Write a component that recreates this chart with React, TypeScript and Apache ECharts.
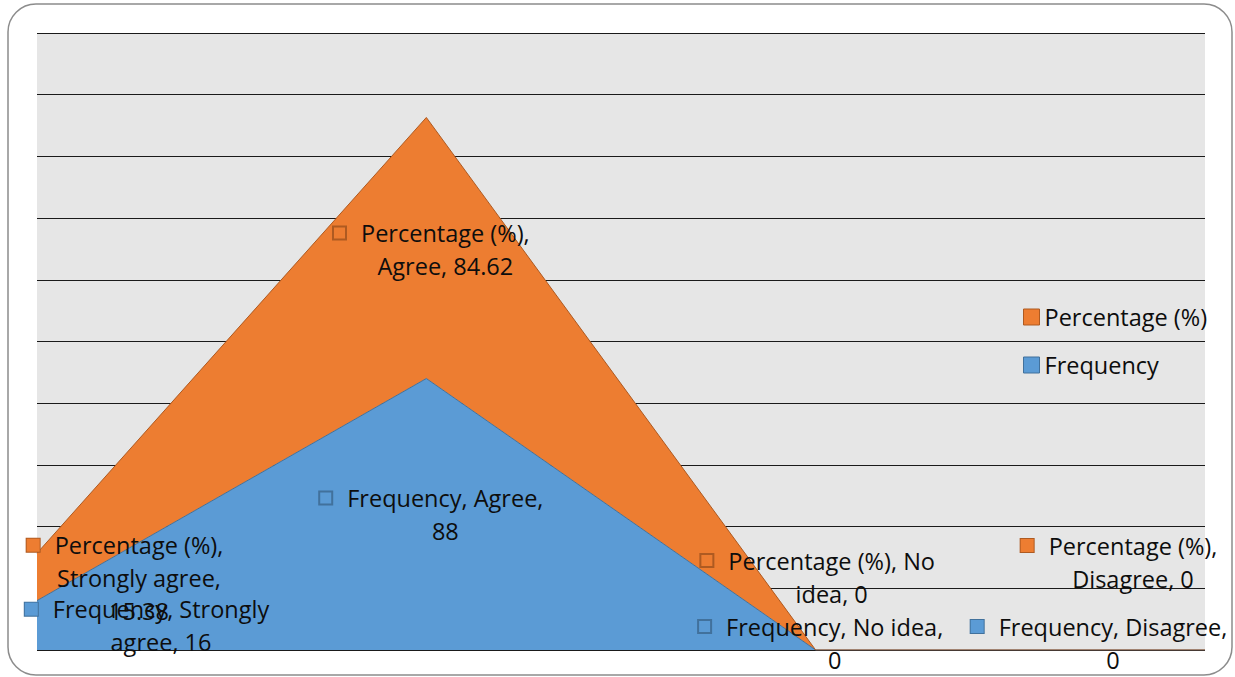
import React, { useEffect, useRef } from "react";
import * as echarts from "echarts";

const categories = ["Strongly agree", "Agree", "No idea", "Disagree"];
const frequency = [16, 88, 0, 0];
const percentage = [15.38, 84.62, 0, 0];
const seriesNames = ["Frequency", "Percentage (%)"];
const axisMin = 0;
const axisMax = 200;
const axisInterval = 20;

// layout of the data labels (words per line, offset from point, filled key)
const freqLabelLayout = [
  { lines: [2, 2], offset: [124, 25], filled: true },
  { lines: [2, 1], offset: [19, 136], filled: false },
  { lines: [3, 1], offset: [19, -7], filled: false },
  { lines: [2, 1], offset: [-92, -7], filled: true },
];
const pctLabelLayout = [
  { lines: [2, 2, 1], offset: [102, 25], filled: true },
  { lines: [2, 2], offset: [19, 132], filled: false },
  { lines: [3, 2], offset: [16, -73], filled: false },
  { lines: [2, 2], offset: [-72, -88], filled: true },
];

const ORANGE = "#ED7D31";
const ORANGE_DARK = "#AE5A21";
const BLUE = "#5B9BD5";
const BLUE_DARK = "#41719C";
const FONT = "Open Sans";
const FONT_SIZE = 23.5;

function buildLabel(name: string, cat: string, value: number, layout: any, color: string, dark: string) {
  const words = `${name}, ${cat}, ${value}`.split(" ");
  const lines: string[] = [];
  let i = 0;
  for (const n of layout.lines) {
    lines.push(words.slice(i, i + n).join(" "));
    i += n;
  }
  const text = lines
    .map((l, idx) => (idx === 0 ? `{k|}{g|}{t|${l}}{p|}` : `{t|${l}}`))
    .join("\n");
  return {
    show: true,
    position: "inside",
    offset: layout.offset,
    align: "center",
    verticalAlign: "middle",
    formatter: () => text,
    rich: {
      k: {
        width: 13,
        height: 13,
        backgroundColor: layout.filled ? color : "transparent",
        borderColor: dark,
        borderWidth: 1,
      },
      g: { width: 15, height: 13 },
      p: { width: 28, height: 13 },
      t: { fontFamily: FONT, fontSize: FONT_SIZE, color: "#0d0d0d", lineHeight: 33 },
    },
  };
}

export default function App() {
  const ref = useRef<HTMLDivElement>(null);
  useEffect(() => {
    if (!ref.current) return;
    const chart = echarts.init(ref.current, undefined, { renderer: "svg" });
    const freqData = frequency.map((v, idx) => ({
      value: v,
      label: buildLabel(seriesNames[0], categories[idx], v, freqLabelLayout[idx], BLUE, BLUE_DARK),
    }));
    const pctData = percentage.map((v, idx) => ({
      value: v,
      label: buildLabel(seriesNames[1], categories[idx], v, pctLabelLayout[idx], ORANGE, ORANGE_DARK),
    }));
    chart.setOption({
      animation: false,
      backgroundColor: "#ffffff",
      graphic: [
        {
          type: "rect",
          shape: { x: 8, y: 4, width: 1224, height: 671, r: 28 },
          style: { fill: "none", stroke: "#8c8c8c", lineWidth: 1.5 },
          z: -10,
          silent: true,
        },
      ],
      grid: {
        left: 37,
        right: 30,
        top: 33,
        bottom: 27,
        show: true,
        backgroundColor: "#e6e6e6",
        borderWidth: 0,
      },
      legend: {
        orient: "vertical",
        left: 1023,
        top: 305,
        padding: 0,
        itemWidth: 16,
        itemHeight: 16,
        itemGap: 24,
        icon: "rect",
        textStyle: { fontFamily: FONT, fontSize: FONT_SIZE, color: "#0d0d0d", lineHeight: 24 },
        data: [
          { name: seriesNames[1], itemStyle: { color: ORANGE, borderColor: ORANGE_DARK, borderWidth: 1 } },
          { name: seriesNames[0], itemStyle: { color: BLUE, borderColor: BLUE_DARK, borderWidth: 1 } },
        ],
      },
      xAxis: {
        type: "category",
        data: categories,
        boundaryGap: false,
        axisLabel: { show: false },
        axisTick: { show: false },
        axisLine: { show: false },
      },
      yAxis: {
        type: "value",
        min: axisMin,
        max: axisMax,
        interval: axisInterval,
        axisLabel: { show: false },
        axisTick: { show: false },
        axisLine: { show: false },
        splitLine: { lineStyle: { color: "#1a1a1a", width: 1 } },
      },
      series: [
        {
          name: seriesNames[0],
          type: "line",
          stack: "total",
          data: freqData,
          symbol: "circle",
          symbolSize: 0,
          showSymbol: true,
          color: BLUE,
          lineStyle: { color: BLUE_DARK, width: 1 },
          areaStyle: { color: BLUE, opacity: 1 },
          itemStyle: { color: BLUE },
          z: 2,
        },
        {
          name: seriesNames[1],
          type: "line",
          stack: "total",
          data: pctData,
          symbol: "circle",
          symbolSize: 0,
          showSymbol: true,
          color: ORANGE,
          lineStyle: { color: ORANGE_DARK, width: 1 },
          areaStyle: { color: ORANGE, opacity: 1 },
          itemStyle: { color: ORANGE },
          z: 2,
        },
      ],
    });
    return () => chart.dispose();
  }, []);
  return (
    <div
      ref={ref}
      style={{ position: "absolute", left: 0, top: 0, width: 1235, height: 677 }}
    />
  );
}
